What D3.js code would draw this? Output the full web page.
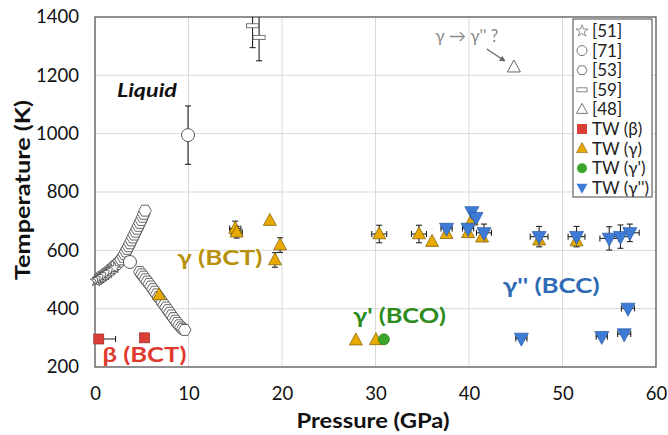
<!DOCTYPE html>
<html><head><meta charset="utf-8">
<script src="https://cdn.jsdelivr.net/npm/d3@7"></script>
<style>
html,body{margin:0;padding:0;background:#fff;}
svg text{font-family:Lato,"Open Sans",sans-serif;}
</style></head>
<body><svg id="c" width="668" height="435"></svg>
<script>
// ---- data ----
const xTicks = [0,10,20,30,40,50,60];
const yTicks = [200,400,600,800,1000,1200,1400];
// [51] stars [P, T]
const ref51 = [[0.1,495],[0.3,500],[0.55,505],[0.8,511],[1.1,517],[1.4,524],[1.75,532],[2.1,540]];
// [71] circles [P, T, yerr]
const ref71 = [[3.74,560,0],[9.95,995,100]];
// [53] hexagons, two branches
const ref53a = [[0.4,503],[0.6,508],[0.85,513],[1.1,519],[1.35,525],[1.6,532],[1.85,539],[2.1,546],[2.35,553],[2.6,561],[2.8,569],[3.0,578],[3.15,587],[3.3,596],[3.45,605],[3.6,614],[3.75,624],[3.9,634],[4.05,644],[4.2,654],[4.35,664],[4.5,674],[4.65,684],[4.8,694],[4.95,704],[5.1,715],[5.22,725],[5.35,736]];
const ref53b = [[4.8,526],[5.0,518],[5.2,510],[5.4,501],[5.6,493],[5.8,485],[6.0,476],[6.2,467],[6.4,458],[6.6,449],[6.8,440],[7.0,431],[7.2,422],[7.4,413],[7.6,404],[7.8,395],[8.0,386],[8.2,377],[8.4,368],[8.6,359],[8.8,351],[9.0,343],[9.2,336],[9.4,331],[9.6,327]];
// [59] rectangles [P, T, yerr]
const ref59 = [[16.85,1370,75],[17.55,1330,80]];
// [48] open triangle
const ref48 = [[44.8,1228]];
// This work [P, T, xerr, yerr]
const twBeta = [[0.4,296,1.8,0],[5.3,300,0,0]];
const twGamma = [[6.85,447,0,0],[15.0,675,0.6,25],[15.15,662,0.6,20],[18.7,702,0,0],[19.8,618,0,25],[19.25,567,0,25],
  [27.9,292,0,0],[30.05,293,0,0],[30.4,656,0.8,30],[34.65,656,0.8,30],[36.05,630,0,0],[37.6,657,0,0],
  [39.9,660,0,0],[40.3,703,0,0],[41.4,645,0,0],[47.5,635,0,0],[51.5,632,0,0]];
const twGammaP = [[30.9,295,0,0]];
const twGammaPP = [[37.6,675,0.6,0],[40.3,732,0,0],[40.75,712,0,0],[39.9,675,0.6,0],[41.6,660,0.8,30],
  [47.5,647,0.95,35],[51.5,647,0.9,35],[55.0,641,1.0,40],[56.2,647,1.0,40],[57.2,660,1.0,30],
  [57.0,401,0.7,0],[45.6,298,0.6,0],[54.2,304,0.6,0],[56.6,313,0.7,0]];
const legendLabels = ["[51]","[71]","[53]","[59]","[48]","TW (β)","TW (γ)","TW (γ')","TW (γ'')"];

// ---- layout ----
const L=95, R=656, T=17, B=367;
const svg = d3.select("#c");
const x = d3.scaleLinear().domain([0,60]).range([L,R]);
const y = d3.scaleLinear().domain([200,1400]).range([B,T]);

svg.append("defs").append("clipPath").attr("id","clip")
  .append("rect").attr("x",L).attr("y",T).attr("width",R-L).attr("height",B-T);

// grid
svg.append("g").selectAll("line").data(xTicks.slice(1,-1)).join("line")
  .attr("x1",d=>x(d)).attr("x2",d=>x(d)).attr("y1",T).attr("y2",B)
  .attr("stroke","#d9d9d9").attr("stroke-width",1);
svg.append("g").selectAll("line").data(yTicks.slice(1,-1)).join("line")
  .attr("y1",d=>y(d)).attr("y2",d=>y(d)).attr("x1",L).attr("x2",R)
  .attr("stroke","#d9d9d9").attr("stroke-width",1);

// axes
const xAxis = svg.append("g").attr("transform",`translate(0,${B})`)
  .call(d3.axisBottom(x).tickValues(xTicks).tickFormat(d3.format("d")).tickSize(0).tickPadding(20));
const yAxis = svg.append("g").attr("transform",`translate(${L},0)`)
  .call(d3.axisLeft(y).tickValues(yTicks).tickFormat(d3.format("d")).tickSize(0).tickPadding(16));
[xAxis,yAxis].forEach(a=>{a.select(".domain").remove();
  a.selectAll("text").attr("font-size",18.5).attr("fill","#111").attr("font-family","Lato,sans-serif");});
// frame
svg.append("rect").attr("x",L).attr("y",T).attr("width",R-L).attr("height",B-T)
  .attr("fill","none").attr("stroke","#555").attr("stroke-width",1.3);

svg.append("text").attr("x",373).attr("y",428).attr("text-anchor","middle")
  .attr("font-family","'Open Sans',sans-serif").attr("textLength",153).attr("lengthAdjust","spacingAndGlyphs")
  .attr("font-size",20).attr("font-weight","bold").attr("fill","#111").text("Pressure (GPa)");
svg.append("text").attr("transform","translate(30,190) rotate(-90)").attr("text-anchor","middle")
  .attr("font-family","'Open Sans',sans-serif").attr("textLength",180).attr("lengthAdjust","spacingAndGlyphs")
  .attr("font-size",20).attr("font-weight","bold").attr("fill","#111").text("Temperature (K)");

const plot = svg.append("g");
const ebars = plot.append("g").attr("clip-path","url(#clip)");

function errBars(data, cap){
  data.forEach(d=>{
    const px=x(d[0]), py=y(d[1]), xe=d[2]||0, ye=d[3]||0;
    if(xe>0){
      ebars.append("line").attr("x1",x(d[0]-xe)).attr("x2",x(d[0]+xe)).attr("y1",py).attr("y2",py);
      [d[0]-xe,d[0]+xe].forEach(v=>ebars.append("line").attr("x1",x(v)).attr("x2",x(v)).attr("y1",py-cap).attr("y2",py+cap));
    }
    if(ye>0){
      ebars.append("line").attr("x1",px).attr("x2",px).attr("y1",y(d[1]-ye)).attr("y2",y(d[1]+ye));
      [d[1]-ye,d[1]+ye].forEach(v=>ebars.append("line").attr("y1",y(v)).attr("y2",y(v)).attr("x1",px-cap).attr("x2",px+cap));
    }
  });
}
function hexPath(cx,cy,r){
  const pts=d3.range(6).map(i=>{const a=Math.PI/3*i;return [cx+r*Math.cos(a),cy+r*Math.sin(a)];});
  return "M"+pts.map(p=>p.join(",")).join("L")+"Z";
}
function triPath(cx,cy,w,h,up){
  return up ? `M${cx},${cy-h*0.6}L${cx+w/2},${cy+h*0.4}L${cx-w/2},${cy+h*0.4}Z`
            : `M${cx},${cy+h*0.6}L${cx+w/2},${cy-h*0.4}L${cx-w/2},${cy-h*0.4}Z`;
}

// error bars
errBars(ref71.map(d=>[d[0],d[1],0,d[2]]),3);
errBars(ref59.map(d=>[d[0],d[1],0,d[2]]),3);
errBars(twBeta,3); errBars(twGamma,3); errBars(twGammaPP,3);
ebars.selectAll("line").attr("stroke","#222").attr("stroke-width",1.1);

// hexagons [53]
plot.append("g").selectAll("path").data(ref53a.concat(ref53b)).join("path")
  .attr("d",d=>hexPath(x(d[0]),y(d[1]),6.3)).attr("fill","#fff").attr("stroke","#555").attr("stroke-width",0.9);
// stars [51]
const star = d3.symbol().type(d3.symbolStar).size(40);
plot.append("g").selectAll("path").data(ref51).join("path")
  .attr("transform",d=>`translate(${x(d[0])},${y(d[1])})`).attr("d",star())
  .attr("fill","#fff").attr("stroke","#444").attr("stroke-width",0.8);
// circles [71]
plot.append("g").selectAll("circle").data(ref71).join("circle")
  .attr("cx",d=>x(d[0])).attr("cy",d=>y(d[1])).attr("r",6.5)
  .attr("fill","#fff").attr("stroke","#555").attr("stroke-width",1);
// rects [59]
plot.append("g").selectAll("rect").data(ref59).join("rect")
  .attr("x",d=>x(d[0])-6).attr("y",d=>y(d[1])-2).attr("width",12).attr("height",4)
  .attr("fill","#fff").attr("stroke","#666").attr("stroke-width",0.9);
// open triangle [48]
plot.append("g").selectAll("path").data(ref48).join("path")
  .attr("d",d=>triPath(x(d[0]),y(d[1]),13,12,true)).attr("fill","#fff").attr("stroke","#666").attr("stroke-width",1);

// TW gamma (gold)
plot.append("g").selectAll("path").data(twGamma).join("path")
  .attr("d",d=>triPath(x(d[0]),y(d[1]),13,12,true)).attr("fill","#e8a900").attr("stroke","#7a5a00").attr("stroke-width",0.7);
// TW gamma'
plot.append("g").selectAll("circle").data(twGammaP).join("circle")
  .attr("cx",d=>x(d[0])).attr("cy",d=>y(d[1])).attr("r",5.5).attr("fill","#3aa62a").attr("stroke","#2a7a1e").attr("stroke-width",0.7);
// TW gamma''
plot.append("g").selectAll("path").data(twGammaPP).join("path")
  .attr("d",d=>triPath(x(d[0]),y(d[1]),14,13,false)).attr("fill","#3d7bd6").attr("stroke","#2a5aa0").attr("stroke-width",0.7);
// TW beta
plot.append("g").selectAll("rect").data(twBeta).join("rect")
  .attr("x",d=>x(d[0])-5).attr("y",d=>y(d[1])-5).attr("width",10).attr("height",10)
  .attr("fill","#d93f36").attr("stroke","#9c2a22").attr("stroke-width",0.7);

// phase labels
const lab = (t,px,pt,col,w,opts={})=>svg.append("text").attr("x",x(px)).attr("y",y(pt))
  .attr("font-family","'Open Sans',sans-serif").attr("textLength",w).attr("lengthAdjust","spacingAndGlyphs")
  .attr("font-size",opts.size||20).attr("font-weight","bold").attr("font-style",opts.style||"normal")
  .attr("fill",col).text(t);
lab("Liquid",2.35,1125,"#111",60,{size:19,style:"italic"});
lab("γ (BCT)",8.8,550,"#b8900a",85);
lab("γ' (BCO)",27.6,351,"#2e8c1e",93);
lab("γ'' (BCC)",43.6,453,"#2f6ab5",97);
lab("β (BCT)",0.8,216,"#e0392e",84);

// annotation
svg.append("text").attr("x",x(36.4)).attr("y",y(1315)).attr("font-size",17)
  .attr("font-family","'DejaVu Serif','Liberation Serif',serif").attr("fill","#8a8a8a").text("γ → γ'' ?");
svg.append("defs").append("marker").attr("id","ah").attr("viewBox","0 0 10 10").attr("refX",8).attr("refY",5)
  .attr("markerWidth",5).attr("markerHeight",5).attr("orient","auto")
  .append("path").attr("d","M0,0L10,5L0,10Z").attr("fill","#666");
svg.append("line").attr("x1",x(41.9)).attr("y1",y(1290)).attr("x2",x(43.8)).attr("y2",y(1250))
  .attr("stroke","#666").attr("stroke-width",1.2).attr("marker-end","url(#ah)");

// legend
const lg = svg.append("g");
lg.append("rect").attr("x",573).attr("y",19).attr("width",79).attr("height",178)
  .attr("fill","#fff").attr("stroke","#444").attr("stroke-width",1);
const rows = lg.selectAll("g").data(legendLabels).join("g")
  .attr("transform",(d,i)=>`translate(582,${31+i*19.6})`);
rows.append("text").attr("x",10).attr("y",6).attr("font-size",17).attr("fill","#222").text(d=>d);
rows.each(function(d,i){
  const g=d3.select(this);
  if(i===0) g.append("path").attr("d",d3.symbol().type(d3.symbolStar).size(45)()).attr("fill","#fff").attr("stroke","#777").attr("stroke-width",0.8);
  if(i===1) g.append("circle").attr("r",5).attr("fill","#fff").attr("stroke","#777");
  if(i===2) g.append("path").attr("d",hexPath(0,0,5)).attr("fill","#fff").attr("stroke","#777");
  if(i===3) g.append("rect").attr("x",-5).attr("y",-2).attr("width",10).attr("height",4).attr("fill","#fff").attr("stroke","#888");
  if(i===4) g.append("path").attr("d",triPath(0,0,11,10,true)).attr("fill","#fff").attr("stroke","#777");
  if(i===5) g.append("rect").attr("x",-5).attr("y",-5).attr("width",10).attr("height",10).attr("fill","#d93f36");
  if(i===6) g.append("path").attr("d",triPath(0,0,11,10,true)).attr("fill","#e8a900").attr("stroke","#7a5a00").attr("stroke-width",0.6);
  if(i===7) g.append("circle").attr("r",5).attr("fill","#3aa62a");
  if(i===8) g.append("path").attr("d",triPath(0,0,11,10,false)).attr("fill","#3d7bd6");
});
</script></body></html>
